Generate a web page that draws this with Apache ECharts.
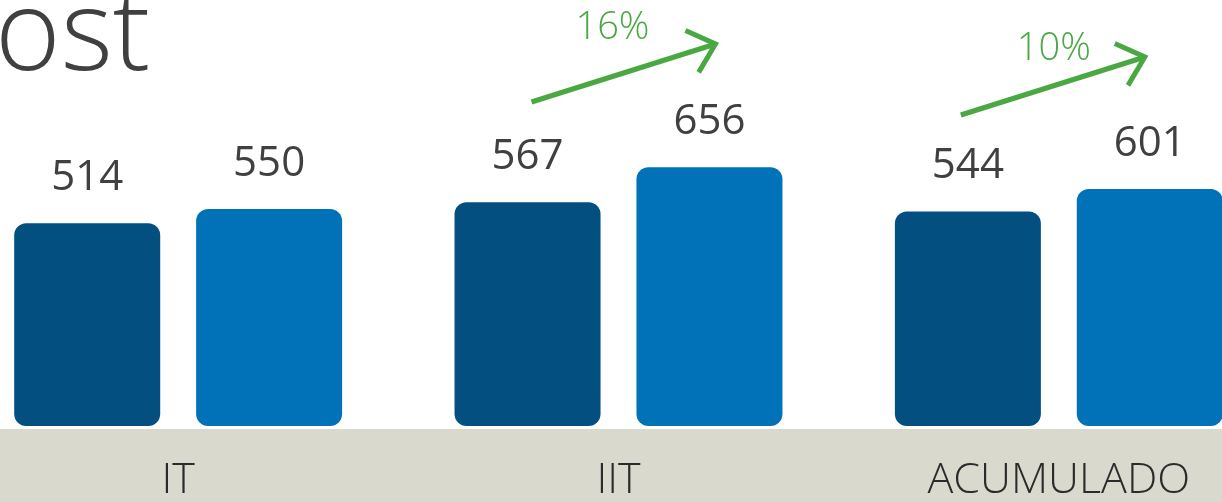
<!DOCTYPE html>
<html>
<head>
<meta charset="utf-8">
<script src="https://cdn.jsdelivr.net/npm/echarts@6/dist/echarts.min.js"></script>
<style>
html,body{margin:0;padding:0;background:#fff;overflow:hidden;width:1222px;height:502px;}
#wrap{position:relative;width:1222px;height:502px;overflow:hidden;}
#chart{position:absolute;left:-42px;top:0;width:1321px;height:502px;}
</style>
</head>
<body>
<div id="wrap"><div id="chart"></div></div>
<script>
const categories = ['IT', 'IIT', 'ACUMULADO'];
const seriesPrev = [514, 567, 544];
const seriesCurr = [550, 656, 601];
const growthLabels = ['', '16%', '10%'];
const titleText = 'ost';

const OFF = 42; // chart canvas is shifted left by this amount
const chart = echarts.init(document.getElementById('chart'), null, {renderer: 'canvas'});
const font = '"Open Sans", "Segoe UI", sans-serif';
const green = '#4aa843';

const option = {
  animation: false,
  grid: {left: 0, right: 0, top: 0, bottom: 73, containLabel: false},
  xAxis: {
    type: 'category',
    data: categories,
    axisLine: {show: false},
    axisTick: {show: false},
    axisLabel: {fontSize: 43, fontFamily: font, fontWeight: 300, color: '#2b2b2b', margin: 33}
  },
  yAxis: {type: 'value', min: 0, max: 1080, show: false, splitLine: {show: false}},
  series: [
    {
      type: 'bar', data: seriesPrev, barWidth: 146, barGap: '24.6%',
      itemStyle: {color: '#024f80', borderRadius: 12},
      label: {show: true, position: 'top', distance: 24, fontSize: 42, fontFamily: font, color: '#404040'}
    },
    {
      type: 'bar', data: seriesCurr, barWidth: 146,
      itemStyle: {color: '#0172b8', borderRadius: 12},
      label: {show: true, position: 'top', distance: 24, fontSize: 42, fontFamily: font, color: '#404040'}
    }
  ]
};
chart.setOption(option);

const graphics = [
  {type: 'rect', shape: {x: 0, y: 429, width: 1400, height: 73}, style: {fill: '#d9d9ce'}, z: -10, silent: true},
  {type: 'text', x: OFF - 5, y: -18, style: {text: titleText, font: '300 112px ' + font, fill: '#404040'}, z: 10}
];
// growth arrows placed relative to category centers
const arrowDefs = [
  {idx: 1, dx0: -87, dx1: 97, y0: 102, y1: 44, tdx: -6, ty: 28},
  {idx: 2, dx0: -98, dx1: 86, y0: 115, y1: 57, tdx: -5, ty: 49}
];
arrowDefs.forEach(function (d) {
  const cx = chart.convertToPixel({xAxisIndex: 0}, categories[d.idx]);
  const x0 = cx + d.dx0, x1 = cx + d.dx1;
  const dx = x1 - x0, dy = d.y1 - d.y0, len = Math.sqrt(dx * dx + dy * dy);
  const ux = dx / len, uy = dy / len;
  const hl = 33, ang = 0.73;
  const p1 = [x1 - hl * (ux * Math.cos(ang) - uy * Math.sin(ang)), d.y1 - hl * (uy * Math.cos(ang) + ux * Math.sin(ang))];
  const p2 = [x1 - hl * (ux * Math.cos(-ang) - uy * Math.sin(-ang)), d.y1 - hl * (uy * Math.cos(-ang) + ux * Math.sin(-ang))];
  graphics.push({type: 'line', shape: {x1: x0, y1: d.y0, x2: x1, y2: d.y1}, style: {stroke: green, lineWidth: 5}});
  graphics.push({type: 'polyline', shape: {points: [p1, [x1, d.y1], p2]}, style: {stroke: green, lineWidth: 5, fill: null, lineJoin: 'miter'}});
  graphics.push({type: 'text', x: cx + d.tdx, y: d.ty, style: {text: growthLabels[d.idx], font: '300 38px ' + font, fill: green, textAlign: 'center', textVerticalAlign: 'middle'}});
});
chart.setOption({graphic: graphics});
</script>
</body>
</html>
